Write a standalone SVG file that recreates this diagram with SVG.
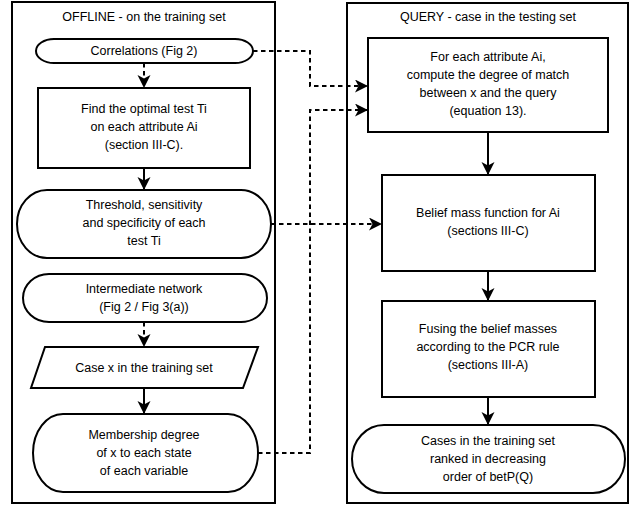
<svg xmlns="http://www.w3.org/2000/svg" width="637" height="508" viewBox="0 0 637 508">
<defs>
<style>
.panel{fill:#fff;stroke:#000;stroke-width:2}
.node{fill:#fff;stroke:#000;stroke-width:2}
text{font-family:"Liberation Sans",Arial,sans-serif;font-size:12.5px;fill:#000;text-anchor:middle}
.c{fill:none;stroke:#000;stroke-width:2}
.d{stroke-dasharray:4.5 3.5}
</style>
<marker id="ah" markerUnits="userSpaceOnUse" markerWidth="14" markerHeight="14" refX="13" refY="6.5" orient="auto">
<path d="M0,0 L13,6.5 L0,13 L3.5,6.5 Z" fill="#000"/>
</marker>
</defs>
<rect width="637" height="508" fill="#fff"/>

<g id="panel-offline">
<rect class="panel" x="12" y="2" width="263" height="501"/>
<text x="144" y="20.5">OFFLINE - on the training set</text>
</g>
<g id="panel-query">
<rect class="panel" x="347" y="3" width="281" height="500"/>
<text x="488" y="20.5">QUERY - case in the testing set</text>
</g>

<g id="connectors">
<path class="c d" d="M144,63 V88" marker-end="url(#ah)"/>
<path class="c" d="M144,168 V190" marker-end="url(#ah)"/>
<path class="c d" d="M144,322 V347" marker-end="url(#ah)"/>
<path class="c" d="M144,388 V414" marker-end="url(#ah)"/>
<path class="c" d="M488,132 V175" marker-end="url(#ah)"/>
<path class="c" d="M488,271 V301" marker-end="url(#ah)"/>
<path class="c" d="M488,397 V425" marker-end="url(#ah)"/>
<path class="c d" d="M253,51 H310 V86 H368" marker-end="url(#ah)"/>
<path class="c d" d="M258,453 H310 V110 H368" marker-end="url(#ah)"/>
<path class="c d" d="M271,224 H382" marker-end="url(#ah)"/>
</g>

<g id="correlations">
<rect class="node" x="36" y="39" width="217" height="24" rx="18" ry="12"/>
<text x="144" y="54.5">Correlations (Fig 2)</text>
</g>
<g id="find-test">
<rect class="node" x="38" y="88" width="212" height="80"/>
<text x="144" y="112.5">Find the optimal test Ti</text>
<text x="144" y="130.5">on each attribute Ai</text>
<text x="144" y="148.5">(section III-C).</text>
</g>
<g id="threshold">
<rect class="node" x="17" y="190" width="254" height="68" rx="30" ry="34"/>
<text x="144" y="208.5">Threshold, sensitivity</text>
<text x="144" y="226.5">and specificity of each</text>
<text x="144" y="244.5">test Ti</text>
</g>
<g id="intermediate">
<rect class="node" x="23" y="274" width="244" height="48" rx="26" ry="24"/>
<text x="144" y="293">Intermediate network</text>
<text x="144" y="311">(Fig 2 / Fig 3(a))</text>
</g>
<g id="case-x">
<polygon class="node" points="45,347 258,347 243,388 31,388"/>
<text x="144" y="371.5">Case x in the training set</text>
</g>
<g id="membership">
<rect class="node" x="33" y="414" width="225" height="78" rx="30" ry="39"/>
<text x="144" y="439">Membership degree</text>
<text x="144" y="457">of x to each state</text>
<text x="144" y="475">of each variable</text>
</g>

<g id="degree-match">
<rect class="node" x="368" y="38" width="240" height="94"/>
<text x="488" y="61">For each attribute Ai,</text>
<text x="488" y="79">compute the degree of match</text>
<text x="488" y="97">between x and the query</text>
<text x="488" y="115">(equation 13).</text>
</g>
<g id="belief-mass">
<rect class="node" x="382" y="175" width="213" height="96"/>
<text x="488" y="217">Belief mass function for Ai</text>
<text x="488" y="235">(sections III-C)</text>
</g>
<g id="fusing">
<rect class="node" x="382" y="301" width="213" height="96"/>
<text x="488" y="333">Fusing the belief masses</text>
<text x="488" y="351">according to the PCR rule</text>
<text x="488" y="369">(sections III-A)</text>
</g>
<g id="ranked">
<rect class="node" x="352" y="425" width="273" height="68" rx="32" ry="34"/>
<text x="488" y="444.5">Cases in the training set</text>
<text x="488" y="462.5">ranked in decreasing</text>
<text x="488" y="480.5">order of betP(Q)</text>
</g>
</svg>
